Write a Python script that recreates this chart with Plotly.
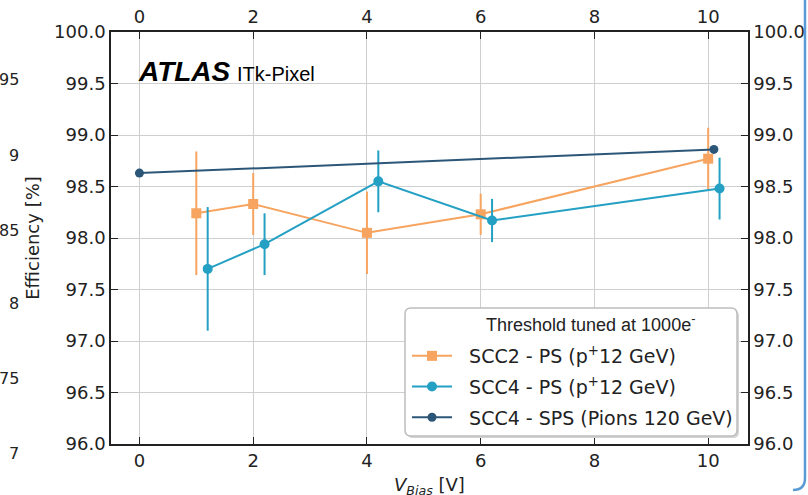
import plotly.graph_objects as go

# ---- data ----
scc2_x = [1.0, 2.0, 4.0, 6.0, 10.0]
scc2_y = [98.24, 98.33, 98.05, 98.23, 98.77]
scc2_err = [0.60, 0.30, 0.40, 0.20, 0.30]

scc4ps_x = [1.2, 2.2, 4.2, 6.2, 10.2]
scc4ps_y = [97.70, 97.94, 98.55, 98.17, 98.48]
scc4ps_err = [0.60, 0.30, 0.30, 0.21, 0.30]

scc4sps_x = [0.0, 10.1]
scc4sps_y = [98.63, 98.86]

x_ticks = [0, 2, 4, 6, 8, 10]
left_ghost_labels = ["95", "9", "85", "8", "75", "7"]

ORANGE = "#f6a45f"
TEAL = "#23a0c3"
DARK = "#2c5678"

W, H = 808, 495
L, R, T, B = 111, 748, 32, 444
NB = "\u00a0\u00a0"


def px(x):
    return (x - L) / (R - L)


def py(y):
    return (B - y) / (B - T)


fig = go.Figure()

fig.add_trace(go.Scatter(
    x=scc2_x, y=scc2_y, mode="lines+markers", name=NB + "SCC2 - PS (p<sup>+</sup>12 GeV)",
    line=dict(color=ORANGE, width=2),
    marker=dict(symbol="square", size=10, color=ORANGE),
    error_y=dict(type="data", array=scc2_err, color=ORANGE, thickness=2, width=0),
    legendgroup="a"))
fig.add_trace(go.Scatter(
    x=scc4ps_x, y=scc4ps_y, mode="lines+markers", name=NB + "SCC4 - PS (p<sup>+</sup>12 GeV)",
    line=dict(color=TEAL, width=2),
    marker=dict(symbol="circle", size=10, color=TEAL),
    error_y=dict(type="data", array=scc4ps_err, color=TEAL, thickness=2, width=0),
    legendgroup="b"))
fig.add_trace(go.Scatter(
    x=scc4sps_x, y=scc4sps_y, mode="lines+markers", name=NB + "SCC4 - SPS (Pions 120 GeV)",
    line=dict(color=DARK, width=2),
    marker=dict(symbol="circle", size=9, color=DARK),
    legendgroup="c"))
# invisible trace to activate mirrored axes
fig.add_trace(go.Scatter(x=[0], y=[98], xaxis="x2", yaxis="y2", mode="markers",
                         marker=dict(opacity=0), showlegend=False, hoverinfo="skip"))

tick_font = dict(family="DejaVu Sans", size=18, color="#222")
common = dict(ticks="inside", ticklen=7, tickwidth=1.2, tickcolor="#222",
              showline=True, linecolor="#222", linewidth=1.5, tickfont=tick_font,
              zeroline=False, automargin=False)

fig.update_layout(
    width=W, height=H,
    margin=dict(l=L, r=W - R, t=T, b=H - B),
    paper_bgcolor="white", plot_bgcolor="white",
    xaxis=dict(range=[-0.5, 10.7], tickvals=x_ticks, showgrid=True, gridcolor="#cfcfcf",
               gridwidth=1, mirror=True, **common),
    yaxis=dict(range=[96.0, 100.0], dtick=0.5, tickformat=".1f", showgrid=True,
               gridcolor="#cfcfcf", gridwidth=1, mirror=True,
               title=dict(text="Efficiency [%]",
                          font=dict(family="DejaVu Sans", size=18, color="#222"), standoff=10),
               **common),
    xaxis2=dict(overlaying="x", side="top", matches="x", tickvals=x_ticks, showgrid=False, **common),
    yaxis2=dict(overlaying="y", side="right", matches="y", dtick=0.5, tickformat=".1f",
                showgrid=False, **common),
    legend=dict(x=px(407), y=py(337), xanchor="left", yanchor="top",
                bgcolor="rgba(0,0,0,0)", borderwidth=0, tracegroupgap=3,
                font=dict(family="DejaVu Sans", size=19, color="#222"), itemwidth=40),
    showlegend=True,
)

# x-axis title (sits at the bottom edge, as in the reference)
fig.add_annotation(text="<i>V</i><sub><i>Bias</i></sub> [V]", x=px(429), y=py(472),
                   xref="paper", yref="paper", showarrow=False, xanchor="center", yanchor="top",
                   font=dict(family="DejaVu Sans", size=18, color="#222"))

# rounded legend box with shadow
def rounded(x0, y0, x1, y1, r):
    return (f"M {px(x0 + r)},{py(y0)} L {px(x1 - r)},{py(y0)} "
            f"Q {px(x1)},{py(y0)} {px(x1)},{py(y0 + r)} L {px(x1)},{py(y1 - r)} "
            f"Q {px(x1)},{py(y1)} {px(x1 - r)},{py(y1)} L {px(x0 + r)},{py(y1)} "
            f"Q {px(x0)},{py(y1)} {px(x0)},{py(y1 - r)} L {px(x0)},{py(y0 + r)} "
            f"Q {px(x0)},{py(y0)} {px(x0 + r)},{py(y0)} Z")

fig.add_shape(type="path", path=rounded(407, 310, 739, 438, 6), xref="paper", yref="paper",
              fillcolor="#d4d4d4", line=dict(width=0), layer="above")
fig.add_shape(type="path", path=rounded(405, 308, 737, 436, 6), xref="paper", yref="paper",
              fillcolor="white", line=dict(color="#bdbdbd", width=1.5), layer="above")

fig.add_annotation(text="Threshold tuned at 1000e<sup>-</sup>", x=px(590), y=py(323),
                   xref="paper", yref="paper", showarrow=False, xanchor="center", yanchor="middle",
                   font=dict(family="Liberation Sans", size=18, color="#222"))

fig.add_annotation(text="<b><i>ATLAS</i></b>", x=px(136), y=py(72), xref="paper", yref="paper",
                   showarrow=False, xanchor="left", yanchor="middle",
                   font=dict(family="Liberation Sans", size=28, color="black"))
fig.add_annotation(text="ITk-Pixel", x=px(235), y=py(74), xref="paper", yref="paper",
                   showarrow=False, xanchor="left", yanchor="middle",
                   font=dict(family="Liberation Sans", size=20, color="black"))

# labels of neighbouring panel visible at the far left
ghost_y = [80, 155, 230, 304, 378, 453]
for lbl, gy in zip(left_ghost_labels, ghost_y):
    fig.add_annotation(text=lbl, x=px(21), y=py(gy), xref="paper", yref="paper",
                       showarrow=False, xanchor="right", yanchor="middle",
                       font=dict(family="DejaVu Sans", size=16, color="#222"))

# frame line at the right edge
fig.add_shape(type="path",
              path=f"M {px(805)},{py(0)} L {px(805)},{py(478)} Q {px(805)},{py(490)} {px(793)},{py(490)}",
              xref="paper", yref="paper", line=dict(color="#5b9bd5", width=2.5), layer="above")

fig.write_html("out.html", config={"displayModeBar": False},
               post_script="document.body.style.margin='0';document.body.style.overflow='hidden';")
